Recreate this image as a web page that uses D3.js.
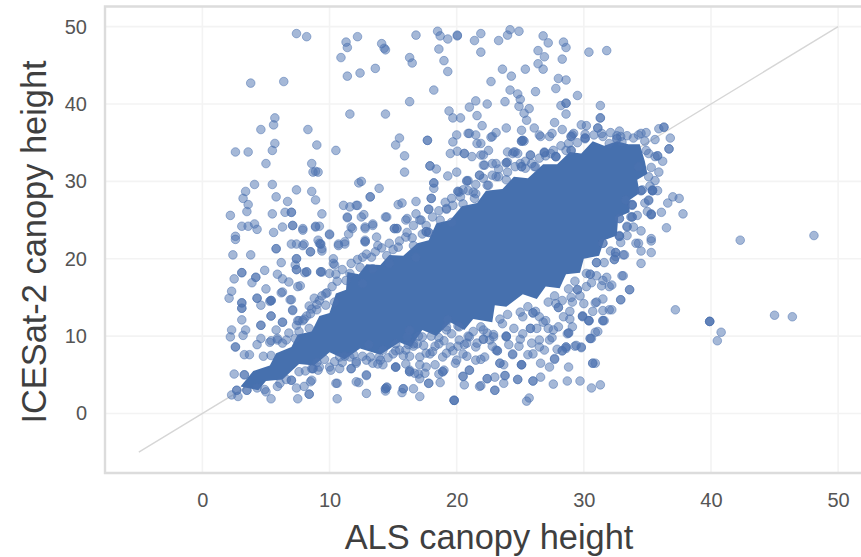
<!DOCTYPE html>
<html>

<head>
  <title>ALS vs ICESat-2 canopy height</title>
  <meta charset="utf-8">
  <script src="https://d3js.org/d3.v7.min.js"></script>
  <style>
    body { margin: 0; background: #fff; }
    svg { display: block; font-family: "Liberation Sans", Arial, sans-serif; }
    .domain { display: none; }
    .tick text { fill: #555; font-size: 20px; }
    .grid line { stroke: #f3f3f3; stroke-width: 1.6px; }
    .frame { stroke: #dcdcdc; stroke-width: 2.4px; fill: none; }
    .title { fill: #3f3f3f; font-size: 34.4px; }
    .marks { filter: blur(0.7px); }
  </style>
</head>

<body>
  <svg width="861" height="557"></svg>
  <script>
    var xTicks = [0, 10, 20, 30, 40, 50];
    var yTicks = [0, 10, 20, 30, 40, 50];
    var refLine = [-5, 50];

    // the dense middle is thousands of overlapped points that merge to solid colour,
    // single values can't be read there so it is kept as an outline
    var coreOutline = [[3,3.5],[4,5.5],[5.3,6.2],[5.8,7.8],[7,8.6],[7.5,10.2],[8.6,10.6],[9.2,12.6],[10,13],[10.5,15.5],[11.3,16],[11.4,18.3],[12.3,18],[12.9,19.3],[14,19.2],[14.7,20.5],[15.8,20.4],[16.9,22],[17.8,22.4],[18.4,24.6],[19.5,25],[20.4,26.8],[21.6,27.2],[22.3,28.8],[23.6,29],[24.5,30.6],[25.6,30.4],[26.8,32.2],[27.9,32.2],[28.9,33.8],[29.8,33.6],[30.7,35.2],[31.6,34.6],[32.6,35.2],[33.5,34.8],[34.4,34.8],[34.8,32.6],[35,31],[34.2,30.2],[34.4,28.5],[33.6,27.6],[33.6,26],[32.7,25.4],[32.6,23],[31.6,22.4],[31.2,20.4],[30,20],[29.7,18.2],[28.6,18],[28.1,16.2],[27,16.4],[26.3,14.8],[25.2,15.4],[23.9,13.8],[23,14],[22.8,11.8],[21.3,12.2],[20.6,10.8],[19.5,11.8],[18.4,10],[17.3,10.8],[16.4,8.6],[15.5,9.2],[14,7.6],[12.4,8.4],[11.2,7],[10,7.9],[8.8,6.2],[7.6,6.4],[6.3,4.4],[5,4.2],[4.4,3]];

    var upperPoints = [[7.4,49.1],[8.2,48.7],[11.3,48],[11.4,47.3],[12.2,48.7],[14.1,47.8],[14.3,47.2],[14.4,47],[16.8,48.9],[18.5,49.4],[18.7,48.8],[19.3,48.4],[20.05,48.8],[20.05,48.9],[21.4,48.2],[10.9,46],[18.6,47.1],[16.3,46],[16.5,45.3],[19,45.6],[19.3,44.2],[11.4,43.6],[12.4,44],[13.6,44.6],[3.8,42.7],[6.4,42.9],[18.2,41.8],[16.3,40.3],[11.6,38.7],[14.4,38.7],[19.4,39.1],[19.7,38.2],[20.3,38.2],[21,39.6],[21.5,40.4],[21.6,38.5],[5.7,38.2],[5.6,37.3],[4.6,36.7],[8.3,36.7],[5.7,34.9],[5.5,34],[2.6,33.8],[3.6,33.8],[9,34.7],[10.5,34],[5,32.3],[8.6,32.3],[8.7,31.2],[9.1,31.2],[8.9,31.3],[15.5,35.6],[15.2,34.7],[15.9,33.3],[15.9,31.2],[17.7,35.3],[17.7,35.3],[20,36],[19.7,35.1],[20.9,36.2],[21.5,36],[21.6,34.9],[19.5,33.6],[20.05,33.9],[20.6,33.6],[17.9,32],[17.9,32],[18.4,31.6],[19.3,30.7],[20,31.2],[18.2,29.8],[18.2,29.8],[18.2,29.1],[20.8,30],[12.3,29.8],[12.5,30],[13.9,29.1],[13.2,28],[13.2,28],[18,27.8],[18,27.8],[20.1,28.7],[20.1,28.7],[4.1,29.6],[5.5,29.6],[3.4,28.7],[3.2,27.8],[5.8,28],[7.4,28.9],[8.6,28.7],[8.9,27.6],[6.7,27.4],[3.6,27],[3.5,26.1],[2.2,25.6],[5.5,25.8],[6.5,26],[7,26],[7,26],[9.4,25.8],[11.1,26.9],[12.1,26.9],[11.6,26.7],[12.7,25.7],[11.4,25.4],[15.4,27],[15.7,27.2],[16.8,27.4],[14.4,25.4],[17.8,26.4],[17.8,26.4],[19.2,26.4],[16.1,25.2],[17.1,25],[3.1,24.2],[3.6,24.2],[4.1,24.5],[4.3,23.8],[5.6,23.4],[6.3,24.1],[7.1,24.3],[7.1,24.3],[7.9,23.9],[8.9,24.2],[9.2,24.2],[10,23.2],[9.1,22.4],[2.6,22.9],[11.8,23.9],[12.8,24.1],[13.4,24.5],[15.1,23.9],[15.1,23.9],[17.8,23.4],[17.8,23.4],
      [21.9,49.1],[21.9,46.7],[23.3,48.2],[24.2,49.6],[24,48.9],[24.9,49.4],[26.8,48.8],[27.2,47.9],[28.4,48],[28.6,47.3],[26.4,46.9],[26.9,46.1],[28.3,45.8],[30.4,46.7],[31.8,46.9],[23.6,44.5],[24.3,43.6],[25.4,44.5],[26.4,45.2],[26.8,44.5],[22.7,42.9],[28,43.3],[28.6,43.1],[27.8,42],[24.2,41.8],[24.8,41.3],[26.2,41.6],[29.5,41.1],[25,40.6],[24.9,39.7],[25.7,39.4],[25.3,38.8],[25.5,37.9],[22.4,40],[23.8,40.3],[28.2,39.8],[28.6,40.1],[28.6,40.1],[28.6,38.7],[31.3,39.8],[31.3,38.2],[31.3,38.2],[31.1,36.9],[31.1,36.9],[22,37.2],[23.9,36.9],[26.1,36.9],[27.7,37.6],[28.3,36.7],[25.1,36.6],[29.8,37.3],[30.2,37.2],[26.6,35.8],[27.3,35.8],[29,35.8],[29,35.8],[29.2,36.2],[30.1,35.6],[30.1,35.6],[31.5,35.8],[23.1,36.3],[22.7,35.7],[25.1,35.2],[25.1,35.2],[25.3,35.2],[32.8,36.5],[32.6,35.9],[32.9,35.8],[34.5,36.2],[34.9,36.3],[35.9,36.8],[36.3,37],[36.3,37],[35.6,35.4],[36.8,35.6],[36.7,34.2],[36.7,34.2],[24.4,33.6],[24.8,33.6],[24.6,33.8],[23.9,32.4],[23.9,32.4],[25.8,33.4],[26.9,33.7],[26.9,33.7],[27.4,33.6],[27.8,33.2],[27.8,33.2],[29,34],[29,34],[22.1,33.4],[22.5,34],[23.1,32.3],[22.1,32.1],[25.1,31.9],[25.1,31.9],[26.2,31.9],[35.8,33.3],[35.8,33.3],[36.2,32.6],[35.9,31.2]];

    var lowerPoints = [[2.4,20.5],[3.8,20.5],[2.6,22.5],[5.8,21.3],[5.8,21.3],[7,21.9],[7.4,21.9],[8,21.9],[8.5,20.9],[8.5,20.9],[9.3,21.9],[9.3,21.9],[9.4,21],[10.7,21.9],[11.2,22.2],[12.8,22.2],[12.8,22.2],[6.2,19.5],[7.4,20],[7.4,20],[7.4,18.6],[7.4,18.6],[8.2,18.3],[8.2,18.3],[9.3,18.3],[9.3,18.3],[10.3,19.4],[10.5,18],[3.1,18.2],[3.1,18.2],[2.5,17.4],[4.2,17.6],[4.2,17.6],[4.9,18.5],[5.9,18],[6.3,17.4],[6.8,17],[7.7,16.5],[2.3,15.8],[2.1,14.9],[3.9,16.9],[5,16.1],[6.3,15.7],[5.4,14.6],[5.4,14.6],[5.4,14.6],[4.3,14.9],[4.3,14.9],[4.6,14],[7,14.7],[7.1,13.4],[3.1,14.3],[3.1,14.3],[3.1,13.6],[3.1,13.6],[3.1,12.1],[5.4,12.6],[5.4,12.6],[6.3,11.8],[4.6,11.4],[4.6,11.4],[7.6,12],[8.2,12.6],[8.8,14.9],[9.4,15.2],[9.8,15.6],[8.4,13.9],[9,13.4],[2.3,10.8],[2.2,9.9],[3.4,10.8],[3.2,10.1],[5.8,10.8],[4.6,9.7],[4.3,8.9],[5.4,9.4],[2.6,8.6],[2.6,8.6],[3.3,7.6],[3.7,7.6],[4.8,7.4],[5.4,7.5],[5.9,9.7],[6.3,9.1],[7.6,10.6],[2.5,5.1],[3.3,5],[3.3,5],[2.7,3],[2.7,3],[2.3,2.4],[2.8,2.2],[3.5,3],[3.5,3],[4.3,3.3],[5.4,1.9],[5,2.8],[7,4.3],[7.4,3.3],[7.5,1.9],[8.4,2.5],[8.4,2.5],[8.5,4.1],[8,3.5],[6.1,3.9],[10.6,3.9],[10.6,1.9],[12.3,4],[12.9,5],[12.9,2.6],[14.4,3.2],[14.4,3.2],[14.4,2.9],[15.8,3.2],[15.8,3.2],[15.7,2.7],[17.1,2.2],[16.6,3.2],[19.8,1.7],[19.8,1.7],[19.8,1.7],[15.2,6],[15.2,6],[20.6,3.7],[21,5.6],[21,5.6],[18.9,5.4],[18.9,5.4],[18.7,4],[17.8,3.9],[17.8,3.9],[17.1,4.5],[16.3,5.4],[16.3,5.4],[16.7,5.2],[17.5,5.2],[20.5,4.8],[20.5,4.8],[21.8,3.5],[11.7,5.8],[11.7,5.8],[10.1,5.6],[8.7,5.8],[8.7,5.8],[9.1,5.6],[12.1,6.5],[13.4,6.5],[14.2,6.3],[11.2,7.4],[16.3,7.4],[17.1,6.3],[18.3,6.3],[20.1,8.7],[20.8,9.1],[19.2,7.8],[17.6,7.8],[20.8,7.4],[21.5,6.9],[19.9,6.5],[15.5,8.2],[16.6,8.7],[18.3,8.7],[19.3,12.1],[20.1,11.3],[20.9,10],[16.3,10.8],[17,10],
      [31.5,22],[31.5,22],[32.5,20.8],[32.5,20.8],[32.4,19.9],[32.4,19.9],[33.2,20.5],[34.3,22],[34.5,21],[35.3,20.8],[35.3,22.3],[34.5,19.4],[33,17.8],[33.6,16],[32.9,14.7],[32.2,16.6],[31.4,16.5],[31.8,17.6],[30.9,14.3],[31.5,14.8],[32,13.4],[31.5,13.3],[31.5,12],[31.5,12],[30.4,12],[30.4,12],[29.9,12.6],[29.9,12.6],[28.9,12.2],[30.9,10.5],[30.5,9.7],[30.5,9.7],[28.8,10.4],[28.8,10.4],[29.8,8.5],[29.3,8.7],[28.6,8.6],[28.6,8.6],[28.3,8.1],[28.3,8.1],[30.7,6.5],[30.7,6.5],[30.9,6.5],[28.8,6],[27.7,7],[27.3,6],[26.6,6.5],[26.6,4.7],[27.6,3.8],[28.7,4.2],[29.7,4.2],[30.6,3.3],[31.3,3.7],[26,4.2],[26,4.2],[24.8,4.4],[24.8,4.4],[25.1,6.3],[25.1,6.3],[25.1,6.3],[23.8,4.9],[23.8,4.9],[23,3],[23,3],[22.4,4.5],[22.4,4.5],[23.7,3.9],[25.7,2],[25.5,1.6],[21.9,3.6],[23,4.7],[23.4,6.5],[23.4,6.5],[25.8,11],[25.8,11],[27.5,9.8],[25.6,7.6],[23.2,8.1],[23.2,8.1],[22.1,9.6],[22.1,9.6],[23.9,10],[23.9,10],[25,9.6],[26.5,8.6],[27.9,8.3],[21.9,7],[22.8,8.7],[24.4,7.6],[26,13],[26,13],[27,12],[28,13.7],[28,13.7],[29,15],[29.5,16],[29.5,16],[30.5,18],[30.5,18],[31,19.5],[31,19.5],
      [35.8,28.8],[34.5,28.8],[34.5,28.8],[35.4,28.8],[35.4,28.8],[35.4,28.8],[37,28],[37.5,27.8],[36.6,27.2],[37.8,25.8],[35.1,27.5],[33.8,27],[33.8,27],[35,26.1],[35.3,25.7],[35.3,25.7],[36.1,26],[33.8,25.4],[33.8,25.4],[32.8,25.2],[33.4,24.2],[34.5,23.6],[36.5,24],[32.8,22.9],[32.8,22.9],[35.3,22.6]];

    // clusters hugging the solid middle
    var edgePoints = [[12.2,26.9],[12.5,25.4],[11.4,25.3],[12.8,23.9],[11.7,24.1],[11.5,23.2],[13.4,24.3],[13.7,22.8],[12.8,22.4],[11.2,21.9],[10.7,21.7],[14.5,25.4],[15.3,23.9],[15.3,23.9],[16,22.8],[14.7,22],[13.8,21.7],[16,25],[16.6,24.3],[17.2,25],[16.8,25.8],[17.6,23.5],[17.6,23.5],[18.7,25],[19.2,26.5],[19.6,24.7],[19.7,26.9],[20.5,27.1],[21.4,27.8],[20.2,28.6],[20.8,30.1],[21.8,30.8],[22.5,29.5],[23.1,30.6],[21.3,28.6],[9.2,22],[9.4,21.3],[8.9,24.1],[7.9,23.7],[10,23.1],[7.9,21.7],[12.6,20.2],[13.3,20.2],[14.5,20.4],[15.4,21.5],[16.6,21.7],[16.8,20.2],[10.3,20],
      [25.2,35.3],[25.2,35.3],[24.5,33.8],[24,33.8],[24,32.5],[25.8,33.4],[26.9,33.8],[27.8,33.2],[28.6,34],[26.1,31.9],[25.4,31.7],[25,32.3],[24,31.2],[23.3,30.6],[22.4,29.5],[21.8,30.8],[20.9,30.1],[21.5,28.4],[20.5,28.9],[22.8,32.3],[22.2,32.1],[21.2,33.2],[21.9,33.4],[22.8,35.8],[21.9,34.9],[21,36.2],[20.6,33.6],[26.5,36],[27.5,36.2],[29.1,36],[30.1,35.5],[32.6,35.5],[32.6,35.5],[33,35.1],[32,34.9],[34.3,36],[35.1,33.6],[35.6,33.2],[34.9,34],[34.3,31.9],[35.1,30.6],[34.6,28.9],[35.4,28.9],[33.8,26.9],[33.3,27.6],[35.1,27.6],[35.3,25.8],[33.7,25.4],[32.8,25.2],[33.4,24.1],[32.8,23],
      [11.6,18.1],[12.4,18.9],[11.3,17.2],[10.4,14.4],[9.7,15.5],[9.2,14.6],[8.6,13.5],[10,18.1],[9.4,18.3],[10.4,19.2],[8.05,18.2],[7.3,19.2],[5.3,14.5],[7.5,16.4],[6.9,14.7],[6.2,15.6],[7.1,13.3],[7.9,12],[8.4,11],[7.5,12],[6.3,11.8],[6.6,9.5],[7.3,9.7],[5.9,9.5],[5.3,9.2],[13.4,18.7],[14.7,19.4],[12.6,16.8],
      [10.8,7.3],[11.6,7.3],[10.8,5.8],[10,6],[9.2,6],[8.6,5.8],[12.1,6.7],[12.9,6.9],[13.9,7.3],[13.8,6.4],[15,7.7],[16,8.2],[16.6,9],[15.2,6],[14.5,3.4],[14.5,3.4],[12.9,4.9],[12.1,4.1],[10.5,3.9],[8.6,4.3],[7,4.3],[16.3,5.6],[17,5.1],[17.6,6],[18.6,5.1],[19,5.6],[17.9,7.7],[18.9,7.3],[17.1,7.3],[16,6.4],[19.2,10.8],[18.6,9],[17.3,9.9],[16.3,10.7],[15.2,9],[14.2,8.2],
      [32.5,20.3],[33.1,20.5],[34.1,22],[33.1,17.8],[33.6,16],[32.9,14.7],[32.2,13.4],[31.6,12],[30.4,12],[29.9,12.5],[28.7,10.3],[30.6,9.7],[31.1,10.6],[29.8,8.6],[29.4,8.8],[28.6,8.4],[27.7,7.1],[31.5,17.2],[30.2,16.4],[32,16.4],[31,14.4],[29.1,14.4],[28.4,12.5],[27.6,10.8],[26.3,11],[26.5,9.5],[25.2,10.3],[23.9,9.9],[22.6,9.5],[21,9.9],[20.2,11.2],[19.2,11.2],[19.5,8.6],[20.5,7.7],[21.5,8.6],[23.1,8.2],[24.4,7.7],[26,7.7],[27.3,9.5],[25.2,12.5],[26.5,12.5],[22.1,10.8],[23.6,11.6],[27.8,14.2],[29.1,11.2],
      [6.8,10.4],[7.4,11.4],[8,12.2],[8.5,12.9],[9,14.1],[9.7,14],[10.2,16.4],[10.6,17.1],[11,18.6],[11.7,19.4],[12.2,19.9],[12.9,20.6],[13.6,20.9],[14.1,21.4],[15,21.2],[15.5,22.3],[16.1,23.4],[16.5,22.7],[17.3,23.2],[17.6,24.3],[18.1,25.4],[18.6,26.2],[19.1,27.3],[19.6,27.8],[20.3,28],[20.9,28.8],[21.5,29.6],[22.1,30.4],[22.8,30.8],[23.3,31.6],[23.9,30.2],[24.6,31.9],[25.4,32.6],[25.9,32.3],[26.5,33],[27,33.3],[27.6,34],[28.2,34.6],[28.8,34.9],[29.5,35],[30.1,36.1],[30.8,36],[31.4,36.2],[32.1,36.3],[33.4,35.9],[33.9,35.6],[34.8,35.2],
      [4.9,3.1],[5.9,3.5],[6.6,4.4],[7.6,5.4],[8.1,5.5],[9,6.6],[9.6,7],[10.4,6.7],[11,6.6],[11.9,7.6],[12.6,7.4],[13.2,7.3],[14,6.9],[14.6,7.2],[15.2,8.1],[15.8,7.5],[16.2,8.9],[16.9,9],[17.4,8.8],[18,10],[18.6,9.8],[19,9.4],[19.6,10.3],[20.2,9.5],[20.6,8.9],[21.3,10.6],[21.9,11.2],[22.4,10.4],[22.9,10.2],[23.4,12.2],[24,12.8],[24.5,11],[25,13.1],[25.6,13.8],[26.2,13.2],[26.8,11.8],[27.2,14.4],[27.7,15.2],[28.3,14.6],[28.8,16.1],[29.3,17.1],[29.7,15.2],[30.2,18.1],[30.6,16.9],[31,17.8],[31.6,19.5],[32.1,21],[32.9,22.1],[33.4,23],[33.9,24.1],[34.2,25.6],[34.8,27.2],[35.2,29.4],[35.6,30.1],[35.3,31.8],[24.1,8.9],[25.9,9.1],[26.9,8.2],[20,6.9],[22.2,7.3],[23.7,6.3],[18.1,8],[19.7,8.1],[13.1,8.9],[16.1,9.9],[28,11.2],[28.9,13.2],[30,14.2],[30.7,13.2],[27.2,11],[21.6,9.1],[22.9,9.9],[24.9,8.7]];

    var farPoints = [[42.3,22.4],[48.1,23],[37.2,13.4],[39.9,11.9],[39.9,11.9],[39.9,11.9],[40.8,10.5],[40.5,9.4],[45,12.7],[46.4,12.5]];

    var width = 861, height = 557;
    var left = 105, top_ = 6.5, bottom = 473;

    var x = d3.scaleLinear().domain([-7.66, 51.8]).range([left, width]);
    var y = d3.scaleLinear().domain([-7.69, 52.6]).range([bottom, top_]);

    var svg = d3.select('svg');

    var grid = svg.append('g').attr('class', 'grid');
    grid.selectAll('.gx').data(xTicks).enter().append('line')
      .attr('x1', x).attr('x2', x).attr('y1', top_).attr('y2', bottom);
    grid.selectAll('.gy').data(yTicks).enter().append('line')
      .attr('y1', y).attr('y2', y).attr('x1', left).attr('x2', width);

    svg.append('path').attr('class', 'frame')
      .attr('d', 'M' + (width + 2) + ',' + top_ + 'H' + left + 'V' + bottom + 'H' + (width + 2));

    svg.append('g').attr('transform', 'translate(0,' + bottom + ')')
      .call(d3.axisBottom(x).tickValues(xTicks).tickSize(0).tickPadding(20));
    svg.append('g').attr('transform', 'translate(' + left + ',0)')
      .call(d3.axisLeft(y).tickValues(yTicks).tickSize(0).tickPadding(18));

    svg.append('line')
      .attr('x1', x(refLine[0])).attr('y1', y(refLine[0]))
      .attr('x2', x(refLine[1])).attr('y2', y(refLine[1]))
      .attr('stroke', '#d6d6d6').attr('stroke-width', 1.4);

    var outline = d3.line()
      .x(function (d) { return x(d[0]); })
      .y(function (d) { return y(d[1]); })
      .curve(d3.curveLinearClosed);

    var marks = svg.append('g').attr('class', 'marks');

    marks.append('path').datum(coreOutline)
      .attr('d', outline)
      .attr('fill', '#4670ae');

    marks.selectAll('circle')
      .data(upperPoints.concat(lowerPoints, edgePoints, farPoints))
      .enter().append('circle')
      .attr('cx', function (d) { return x(d[0]); })
      .attr('cy', function (d) { return y(d[1]); })
      .attr('r', 4.3)
      .attr('fill', '#4c72b0').attr('fill-opacity', 0.5)
      .attr('stroke', '#4c72b0').attr('stroke-opacity', 0.5).attr('stroke-width', 1);

    svg.append('text').attr('class', 'title')
      .attr('x', 489).attr('y', 549).attr('text-anchor', 'middle')
      .text('ALS canopy height');
    svg.append('text').attr('class', 'title')
      .attr('transform', 'translate(46,242) rotate(-90)').attr('text-anchor', 'middle')
      .text('ICESat-2 canopy height');
  </script>
</body>

</html>
